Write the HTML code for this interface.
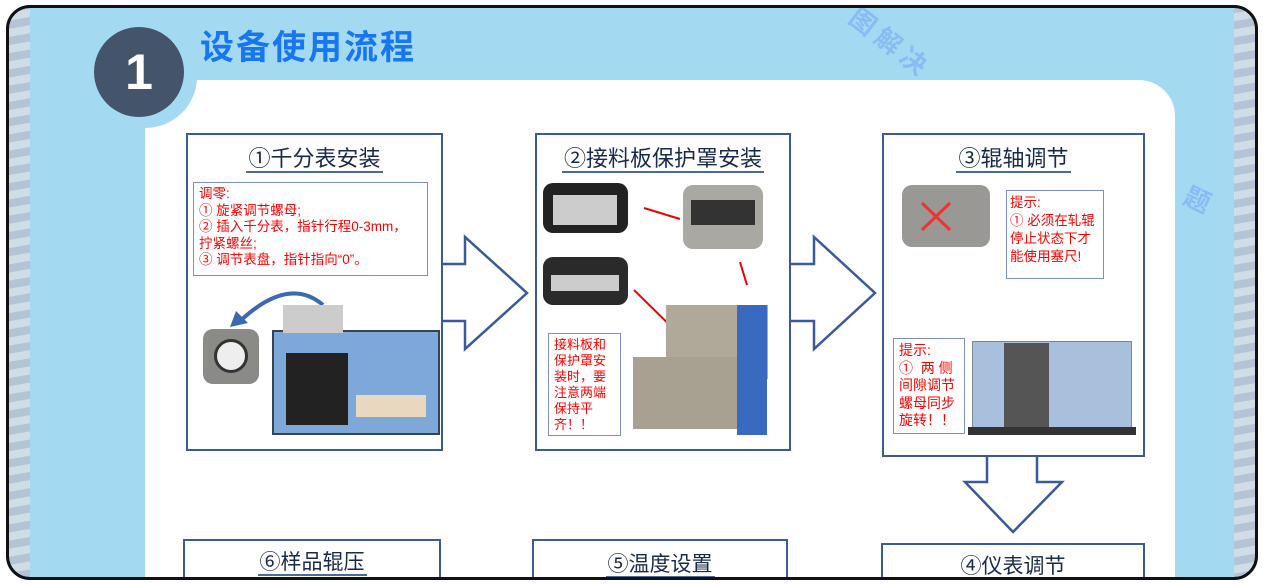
<!DOCTYPE html>
<html><head><meta charset="utf-8"><style>
*{margin:0;padding:0;box-sizing:border-box}
html,body{width:1264px;height:584px;overflow:hidden}
body{background:#fff;font-family:"Liberation Sans","Noto Sans CJK SC",sans-serif;position:relative}
.abs{position:absolute}
.box{position:absolute;border:2.5px solid #3a5a9a;background:#fff}
.bb{border-bottom:none;overflow:hidden}
.ttl{position:absolute;left:0;right:0;text-align:center;font-size:22px;color:#1a2a4a}
.ttl span{border-bottom:2px solid #4a6aa0;padding:0 2px}
.note{position:absolute;border:1.5px solid #7a90c0;background:#fff;color:#f00;font-size:13.5px;line-height:16.5px;padding:3px 5px}
.ph{position:absolute;border-radius:10px}
</style></head><body>
<div class="abs" style="left:6px;top:5px;width:1252px;height:575px;border-radius:24px;background:#a4daf1;overflow:hidden">
 <div class="abs" style="left:0;top:0;width:24px;height:100%;background:repeating-linear-gradient(170deg,#b4c4d4 0 8px,#d0dce6 8px 16px)"></div>
 <div class="abs" style="right:0;top:0;width:24px;height:100%;background:repeating-linear-gradient(170deg,#b4c4d4 0 8px,#d0dce6 8px 16px)"></div>
</div>
<div class="abs" style="left:197px;top:80px;width:978px;height:498px;background:#fff;border-top-right-radius:36px"></div>
<div class="abs" style="left:145px;top:128px;width:60px;height:450px;background:#fff"></div>
<div class="abs" style="left:145px;top:80px;width:52px;height:48px;background:#fff"></div>
<div class="abs" style="left:93px;top:26px;width:104px;height:102px;border-radius:50%;background:#a4daf1"></div>
<div class="abs" style="left:94px;top:27px;width:90px;height:90px;border-radius:50%;background:#44546a;color:#fff;font-size:50px;font-weight:bold;text-align:center;line-height:90px">1</div>
<div class="abs" style="left:200px;top:20px;font-size:34px;font-weight:bold;color:#1877f0;letter-spacing:2px">设备使用流程</div>
<div class="abs" style="left:865px;top:-2px;font-size:26px;color:#8abcf4;transform:rotate(38deg);transform-origin:left top;letter-spacing:6px;font-weight:bold">图解决</div>
<div class="abs" style="left:1185px;top:180px;font-size:26px;color:#8abcf4;transform:rotate(25deg);font-weight:bold">题</div>
<svg class="abs" style="left:0;top:0" width="1264" height="584">
 <g fill="#fff" stroke="#3a5a9a" stroke-width="2.5">
  <path d="M430 264 H465 V237 L527 293 L465 349 V321 H430"/>
  <path d="M780 264 H814 V237 L875 293 L814 349 V321 H780"/>
  <path d="M987 440 V482 H965 L1013 532 L1062 482 H1037 V440"/>
 </g>
</svg>
<div class="box" style="left:186px;top:133px;width:257px;height:318px">
 <div class="ttl" style="top:6px"><span>①千分表安装</span></div>
 <div class="note" style="left:5px;top:47px;width:235px;height:94px">调零:<br>①&nbsp;旋紧调节螺母;<br>②&nbsp;插入千分表，指针行程0-3mm，<br>拧紧螺丝;<br>③&nbsp;调节表盘，指针指向“0”。</div>
 <div class="ph" style="left:15px;top:194px;width:56px;height:55px;background:#8a8a86"><div class="abs" style="left:11px;top:10px;width:34px;height:34px;border-radius:50%;background:#eee;border:3px solid #333"></div></div>
 <svg class="abs" style="left:40px;top:150px" width="100" height="45"><path d="M95 20 Q60 -10 10 38" fill="none" stroke="#3a6ab0" stroke-width="4"/><path d="M2 42 L8 26 L20 38Z" fill="#3a6ab0"/></svg>
 <div class="abs" style="left:84px;top:195px;width:168px;height:105px;background:#7ea8d8;border:2px solid #345"></div>
 <div class="abs" style="left:98px;top:218px;width:62px;height:72px;background:#222"></div>
 <div class="abs" style="left:168px;top:260px;width:70px;height:22px;background:#e8d8c0"></div>
 <div class="abs" style="left:95px;top:170px;width:60px;height:28px;background:#ccc"></div>
</div>
<div class="box" style="left:535px;top:133px;width:256px;height:318px">
 <div class="ttl" style="top:6px"><span>②接料板保护罩安装</span></div>
 <div class="ph" style="left:6px;top:48px;width:85px;height:50px;background:#222"><div class="abs" style="left:10px;top:12px;width:64px;height:30px;background:#ccc"></div></div>
 <div class="ph" style="left:146px;top:50px;width:80px;height:64px;background:#aaa8a2"><div class="abs" style="left:8px;top:15px;width:64px;height:25px;background:#333"></div></div>
 <div class="ph" style="left:6px;top:122px;width:85px;height:48px;background:#2a2a2a"><div class="abs" style="left:8px;top:18px;width:68px;height:16px;background:#ccc"></div></div>
 <svg class="abs" style="left:0;top:0" width="256" height="318"><g stroke="#e00" stroke-width="2" fill="none"><path d="M143 84 L107 73"/><path d="M210 150 L203 127"/><path d="M155 212 L97 155"/></g></svg>
 <div class="note" style="left:11px;top:198px;width:73px;height:103px;font-size:13px;line-height:16px">接料板和保护罩安装时，要注意两端保持平齐！！</div>
 <div class="abs" style="left:129px;top:170px;width:102px;height:74px;background:#b0a898"></div>
 <div class="abs" style="left:200px;top:170px;width:30px;height:130px;background:#3a6ac0"></div>
 <div class="abs" style="left:96px;top:222px;width:104px;height:72px;background:#a8a090"></div>
</div>
<div class="box" style="left:882px;top:133px;width:263px;height:324px">
 <div class="ttl" style="top:6px"><span>③辊轴调节</span></div>
 <div class="ph" style="left:18px;top:50px;width:88px;height:62px;background:#9a9894"><svg width="88" height="62"><path d="M20 18 L48 45 M48 18 L20 45" stroke="#e33" stroke-width="3"/></svg></div>
 <div class="note" style="left:122px;top:55px;width:98px;height:89px;font-size:13.5px;line-height:18px;padding:3px 3px">提示:<br>①&nbsp;必须在轧辊停止状态下才能使用塞尺!</div>
 <div class="note" style="left:9px;top:203px;width:72px;height:96px;font-size:14px;line-height:17.5px">提示:<br>①&nbsp;&nbsp;两 侧间隙调节螺母同步旋转！！</div>
 <div class="abs" style="left:88px;top:206px;width:160px;height:90px;background:#a8c0dc;border:1px solid #789"></div>
 <div class="abs" style="left:120px;top:208px;width:45px;height:86px;background:#555"></div>
 <div class="abs" style="left:84px;top:292px;width:168px;height:8px;background:#333"></div>
</div>
<div class="box bb" style="left:183px;top:539px;width:258px;height:39px"><div class="ttl" style="top:5px;font-size:21px"><span>⑥样品辊压</span></div></div>
<div class="box bb" style="left:532px;top:539px;width:256px;height:39px"><div class="ttl" style="top:7px;font-size:21px"><span>⑤温度设置</span></div></div>
<div class="box bb" style="left:881px;top:543px;width:264px;height:35px"><div class="ttl" style="top:5px;font-size:21px"><span>④仪表调节</span></div></div>
<div class="abs" style="left:6px;top:5px;width:1252px;height:575px;border:3px solid #111;border-radius:24px"></div>
</body></html>
